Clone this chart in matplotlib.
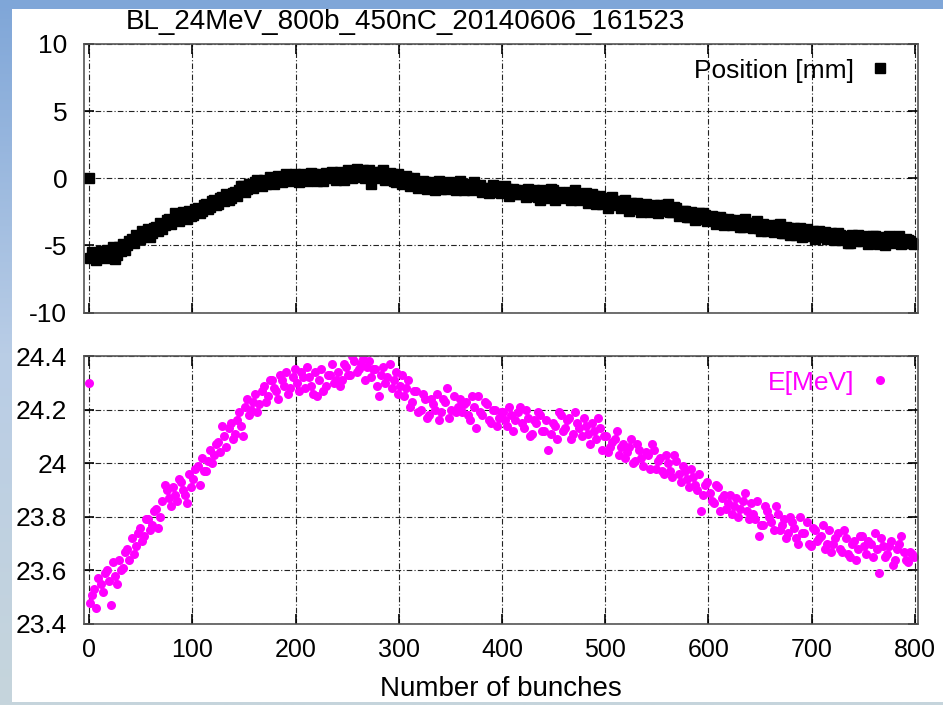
import numpy as np
import matplotlib
matplotlib.use("Agg")
import matplotlib.pyplot as plt
from matplotlib.patches import Rectangle

plt.rcParams['font.family'] = ['Liberation Sans', 'DejaVu Sans']
plt.rcParams['axes.unicode_minus'] = False

title = "BL_24MeV_800b_450nC_20140606_161523"

# bunch numbers, two interleaved samplings of the train
bunch_a = np.r_[0, 1:800:4]
bunch_b = np.r_[3:800:4]

# beam position [mm]
position_a = [0.0,
    -5.9, -5.6, -5.8, -5.5, -5.3, -5.4, -6.0, -5.1, -4.9, -5.0,
    -4.5, -4.2, -4.5, -4.0, -3.8, -4.1, -3.6, -3.3, -3.5, -3.0,
    -3.1, -2.7, -2.9, -2.6, -2.4, -2.7, -2.2, -2.4, -1.9, -2.1,
    -1.6, -1.9, -1.4, -1.2, -1.5, -1.0, -0.9, -0.6, -0.8, -0.4,
    -0.3, -0.5, -0.1, -0.3, 0.0, -0.2, 0.1, -0.1, 0.2, 0.0,
    0.1, -0.1, 0.2, 0.0, 0.3, -0.2, 0.1, 0.4, 0.0, 0.2,
    0.1, 0.4, 0.2, 0.5, 0.3, 0.1, 0.6, 0.3, -0.4, 0.5,
    0.2, 0.6, 0.0, 0.3, -0.3, 0.1, -0.2, 0.0, -0.4, -0.3,
    -0.6, -0.3, -0.5, -0.7, -0.4, -0.8, -0.5, -0.3, -0.6, -0.5,
    -0.4, -0.7, -0.6, -0.3, -0.8, -1.0, -0.7, -0.9, -0.6, -0.8,
    -1.0, -0.8, -1.1, -0.9, -1.2, -1.0, -0.8, -1.3, -1.1, -1.6,
    -1.0, -1.3, -0.9, -1.2, -1.1, -1.4, -1.0, -1.3, -1.2, -1.5,
    -1.1, -1.7, -1.3, -1.6, -1.9, -1.5, -1.8, -2.0, -1.7, -1.9,
    -2.1, -1.8, -2.2, -2.0, -2.3, -2.1, -2.4, -2.2, -2.0, -2.3,
    -1.9, -2.5, -2.2, -2.7, -2.4, -2.9, -2.6, -2.8, -3.0, -2.7,
    -3.1, -2.9, -3.2, -3.0, -3.3, -3.1, -3.4, -3.2, -3.6, -3.3,
    -3.5, -3.3, -3.7, -3.4, -3.9, -3.6, -3.8, -3.4, -4.1, -3.7,
    -3.9, -4.2, -3.7, -4.0, -4.3, -3.9, -4.1, -4.4, -4.0, -4.3,
    -4.4, -4.1, -4.6, -4.3, -4.8, -4.5, -4.2, -4.7, -4.4, -4.6,
    -4.3, -4.9, -4.5, -4.7, -4.4, -4.6, -4.3, -4.8, -4.6, -4.8]
position_b = [
    -5.5, -6.1, -5.4, -5.9, -5.6, -5.1, -5.7, -5.4, -5.3, -4.7,
    -4.8, -4.4, -3.9, -4.3, -4.4, -3.7, -3.9, -3.8, -3.1, -3.4,
    -2.6, -3.2, -2.5, -3.0, -2.8, -2.3, -2.6, -2.0, -2.3, -1.7,
    -2.0, -1.5, -1.7, -1.6, -1.1, -1.3, -0.6, -1.0, -0.4, -0.7,
    -0.1, -0.6, -0.4, 0.1, -0.4, 0.2, -0.3, 0.3, -0.2, 0.3,
    -0.3, 0.3, -0.2, 0.4, -0.1, 0.3, -0.2, 0.1, 0.5, -0.1,
    0.5, -0.1, 0.6, 0.0, 0.7, 0.4, 0.0, 0.6, 0.2, 0.0,
    0.5, -0.1, 0.4, -0.2, 0.3, -0.4, 0.2, -0.6, 0.0, -0.7,
    -0.2, -0.8, -0.3, -0.9, -0.2, -0.6, -0.8, -0.4, -0.9, -0.2,
    -0.9, -0.4, -0.9, -0.6, -0.5, -0.7, -1.1, -0.5, -1.0, -1.1,
    -0.6, -1.3, -0.8, -1.2, -0.9, -1.4, -1.1, -0.9, -1.4, -0.9,
    -1.5, -0.8, -1.6, -1.0, -1.5, -1.1, -1.6, -0.9, -1.6, -1.2,
    -1.8, -1.2, -1.9, -1.3, -1.6, -2.2, -1.4, -1.7, -2.2, -1.6,
    -2.4, -2.3, -1.8, -2.5, -1.9, -2.5, -2.0, -2.6, -2.4, -2.0,
    -2.5, -2.1, -2.8, -2.4, -2.9, -2.5, -3.1, -2.6, -2.6, -3.2,
    -2.8, -3.4, -2.9, -3.5, -3.0, -3.5, -3.1, -3.6, -3.0, -3.5,
    -3.7, -3.2, -3.9, -3.6, -3.5, -4.0, -3.5, -4.1, -3.6, -4.2,
    -3.7, -4.1, -4.4, -3.8, -4.2, -4.5, -3.9, -4.1, -4.5, -4.1,
    -4.6, -4.2, -4.4, -4.8, -4.2, -4.7, -4.5, -4.3, -4.9, -4.3,
    -4.6, -4.4, -5.0, -4.3, -4.8, -4.5, -4.9, -4.5, -4.7, -4.9]

# beam energy [MeV]
energy_a = [24.30,
    23.48, 23.53, 23.57, 23.52, 23.60, 23.47, 23.58, 23.64, 23.61, 23.68,
    23.72, 23.69, 23.76, 23.73, 23.79, 23.77, 23.83, 23.80, 23.92, 23.87,
    23.91, 23.86, 23.93, 23.88, 23.96, 23.94, 23.99, 24.02, 23.97, 24.05,
    24.03, 24.08, 24.14, 24.06, 24.15, 24.11, 24.19, 24.10, 24.24, 24.20,
    24.26, 24.22, 24.29, 24.25, 24.31, 24.27, 24.33, 24.29, 24.26, 24.32,
    24.30, 24.34, 24.28, 24.32, 24.26, 24.25, 24.35, 24.29, 24.33, 24.30,
    24.34, 24.31, 24.36, 24.33, 24.38, 24.35, 24.39, 24.36, 24.32, 24.35,
    24.25, 24.36, 24.32, 24.28, 24.34, 24.29, 24.25, 24.31, 24.23, 24.27,
    24.20, 24.24, 24.18, 24.22, 24.26, 24.19, 24.23, 24.17, 24.25, 24.21,
    24.19, 24.23, 24.16, 24.21, 24.25, 24.18, 24.22, 24.15, 24.20, 24.17,
    24.19, 24.14, 24.18, 24.16, 24.21, 24.13, 24.17, 24.11, 24.15, 24.18,
    24.12, 24.05, 24.15, 24.09, 24.18, 24.13, 24.17, 24.11, 24.15, 24.10,
    24.14, 24.07, 24.12, 24.17, 24.05, 24.10, 24.06, 24.09, 24.03, 24.07,
    24.04, 24.09, 24.01, 24.05, 23.99, 24.03, 24.07, 23.98, 24.02, 23.96,
    24.00, 23.95, 24.01, 23.93, 23.97, 23.91, 23.95, 23.90, 23.82, 23.92,
    23.89, 23.85, 23.91, 23.87, 23.83, 23.88, 23.84, 23.80, 23.86, 23.82,
    23.85, 23.79, 23.73, 23.77, 23.82, 23.78, 23.84, 23.75, 23.79, 23.74,
    23.78, 23.72, 23.80, 23.74, 23.70, 23.76, 23.71, 23.73, 23.68, 23.75,
    23.70, 23.74, 23.67, 23.72, 23.65, 23.71, 23.68, 23.73, 23.66, 23.70,
    23.74, 23.59, 23.69, 23.66, 23.71, 23.64, 23.70, 23.67, 23.63, 23.66]
energy_b = [
    23.51, 23.46, 23.55, 23.59, 23.56, 23.63, 23.55, 23.60, 23.67, 23.64,
    23.66, 23.74, 23.71, 23.79, 23.75, 23.82, 23.76, 23.86, 23.90, 23.84,
    23.88, 23.94, 23.90, 23.85, 23.91, 23.98, 23.92, 23.97, 24.01, 24.00,
    24.07, 24.04, 24.10, 24.13, 24.09, 24.16, 24.14, 24.21, 24.18, 24.23,
    24.19, 24.27, 24.23, 24.31, 24.28, 24.24, 24.31, 24.34, 24.28, 24.35,
    24.27, 24.32, 24.36, 24.29, 24.34, 24.31, 24.27, 24.33, 24.37, 24.31,
    24.29, 24.37, 24.33, 24.40, 24.34, 24.37, 24.31, 24.38, 24.35, 24.29,
    24.33, 24.30, 24.37, 24.31, 24.26, 24.33, 24.28, 24.21, 24.27, 24.19,
    24.26, 24.17, 24.24, 24.20, 24.16, 24.24, 24.28, 24.20, 24.19, 24.24,
    24.22, 24.18, 24.25, 24.13, 24.19, 24.23, 24.16, 24.20, 24.14, 24.19,
    24.16, 24.21, 24.12, 24.19, 24.15, 24.20, 24.10, 24.16, 24.19, 24.12,
    24.16, 24.11, 24.14, 24.19, 24.12, 24.16, 24.09, 24.19, 24.13, 24.17,
    24.11, 24.15, 24.09, 24.13, 24.10, 24.04, 24.08, 24.12, 24.06, 24.02,
    24.06, 24.00, 24.07, 24.02, 24.04, 23.98, 24.05, 24.01, 23.97, 24.03,
    23.97, 24.03, 23.96, 23.99, 23.94, 23.98, 23.92, 23.96, 23.88, 23.93,
    23.86, 23.92, 23.82, 23.88, 23.85, 23.81, 23.87, 23.83, 23.89, 23.79,
    23.81, 23.86, 23.77, 23.84, 23.80, 23.75, 23.81, 23.77, 23.72, 23.80,
    23.76, 23.70, 23.74, 23.78, 23.69, 23.75, 23.72, 23.77, 23.70, 23.67,
    23.72, 23.68, 23.75, 23.66, 23.70, 23.64, 23.73, 23.69, 23.71, 23.65,
    23.68, 23.72, 23.65, 23.69, 23.62, 23.68, 23.73, 23.64, 23.67, 23.65]

pos_ticks = [-10, -5, 0, 5, 10]
e_ticks = [23.4, 23.6, 23.8, 24.0, 24.2, 24.4]
e_ticklabels = ["23.4", "23.6", "23.8", "24", "24.2", "24.4"]
x_ticks = [0, 100, 200, 300, 400, 500, 600, 700, 800]

fig = plt.figure(figsize=(9.43, 7.05), dpi=100)

# slide background: blue gradient behind a white sheet
bg = fig.add_axes([0, 0, 1, 1], zorder=-10)
grad = np.linspace(0, 1, 256).reshape(-1, 1)
cmap = matplotlib.colors.LinearSegmentedColormap.from_list(
    "slide", ["#7fa6d8", "#b9cde6", "#c6d5dc"])
bg.imshow(grad, aspect="auto", cmap=cmap, extent=[0, 1, 0, 1])
bg.add_patch(Rectangle((12 / 943, 3 / 705), 1, 1 - 12 / 705,
                       facecolor="white", edgecolor="none"))
bg.set_xlim(0, 1)
bg.set_ylim(0, 1)
bg.axis("off")

ax1 = fig.add_axes([0.0891, 0.5565, 0.8844, 0.3811])
ax2 = fig.add_axes([0.0891, 0.1149, 0.8844, 0.3801])

ax1.plot(bunch_a, position_a, "s", color="black", markersize=7,
         linestyle="none", label="Position [mm]")
ax1.plot(bunch_b, position_b, "s", color="black", markersize=7,
         linestyle="none")
ax2.plot(bunch_a, energy_a, "o", color="#ff00ff", markersize=6.5,
         markeredgewidth=0, linestyle="none", label="E[MeV]")
ax2.plot(bunch_b, energy_b, "o", color="#ff00ff", markersize=6.5,
         markeredgewidth=0, linestyle="none")

ax1.set_ylim(-10, 10)
ax1.set_yticks(pos_ticks)
ax1.set_xticklabels([])
ax2.set_ylim(23.4, 24.4)
ax2.set_yticks(e_ticks)
ax2.set_yticklabels(e_ticklabels)

for ax in (ax1, ax2):
    ax.set_xlim(-5, 803)
    ax.set_xticks(x_ticks)
    ax.grid(True, color="#222222", linewidth=0.8, linestyle=(0, (5, 2, 1, 2)))
    ax.tick_params(direction="in", top=True, right=True, length=7,
                   width=1.2, colors="black")
    ax.tick_params(axis="y", labelsize=19, pad=12)
    ax.tick_params(axis="x", labelsize=18, pad=10)
    for sp in ax.spines.values():
        sp.set_color("#555555")
        sp.set_linewidth(1.2)

ax1.legend(loc="upper right", bbox_to_anchor=(0.988, 1.0), frameon=False,
           markerfirst=False, fontsize=19, handlelength=1.0,
           handletextpad=0.5, borderaxespad=0.15)
ax2.legend(loc="upper right", bbox_to_anchor=(0.988, 1.0), frameon=False,
           markerfirst=False, fontsize=19, handlelength=1.0,
           handletextpad=0.5, borderaxespad=0.15, labelcolor="#ff00ff")

fig.text(0.43, 0.969, title, fontsize=20, ha="center", va="center")
fig.text(0.531, 0.022, "Number of bunches", fontsize=20,
         ha="center", va="center")

fig.savefig("out.png", dpi=100)
